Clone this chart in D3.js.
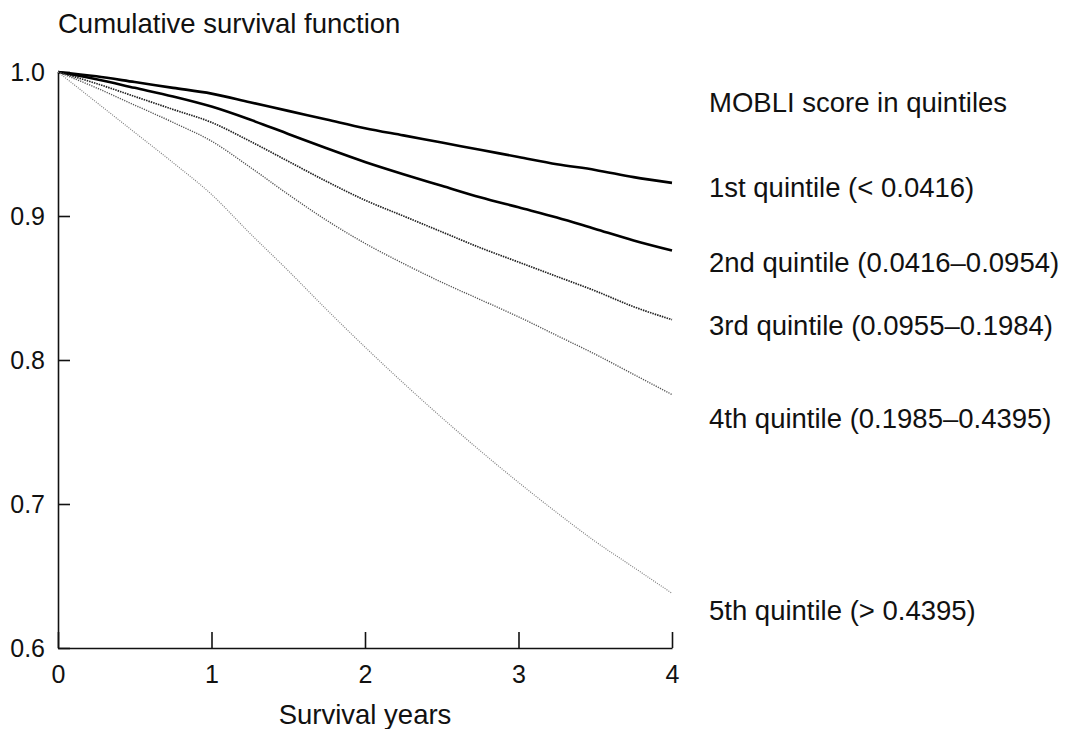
<!DOCTYPE html>
<html>
<head>
<meta charset="utf-8">
<script src="https://cdn.jsdelivr.net/npm/d3@7"></script>
<style>
  body { margin: 0; background: #fff; }
  svg { display: block; }
  text { font-family: "Liberation Sans", Arial, Helvetica, sans-serif; fill: #111; }
  .axis path, .axis line { stroke: #111; stroke-width: 1.6; }
  .axis text { font-size: 25px; }
  .label { font-size: 27.5px; }
</style>
</head>
<body>
<div id="chart"></div>
<script>
// Data (survival, every quarter year)
let years = [0, 0.25, 0.5, 0.75, 1, 1.25, 1.5, 1.75, 2, 2.25, 2.5, 2.75, 3, 3.25, 3.5, 3.75, 4];
let q1 = [1, 0.997, 0.993, 0.989, 0.985, 0.979, 0.973, 0.967, 0.961, 0.956, 0.951, 0.946, 0.941, 0.936, 0.932, 0.927, 0.923];
let q2 = [1, 0.995, 0.989, 0.983, 0.976, 0.967, 0.957, 0.947, 0.9375, 0.929, 0.921, 0.913, 0.906, 0.899, 0.891, 0.883, 0.876];
let q3 = [1, 0.992, 0.983, 0.974, 0.965, 0.952, 0.938, 0.924, 0.911, 0.900, 0.889, 0.878, 0.868, 0.858, 0.848, 0.837, 0.828];
let q4 = [1, 0.989, 0.977, 0.965, 0.952, 0.934, 0.915, 0.897, 0.881, 0.867, 0.854, 0.842, 0.830, 0.817, 0.804, 0.790, 0.776];
let q5 = [1, 0.979, 0.958, 0.937, 0.915, 0.888, 0.862, 0.835, 0.809, 0.784, 0.760, 0.737, 0.715, 0.694, 0.674, 0.656, 0.638];
let seriesNames = [
  '1st quintile (< 0.0416)',
  '2nd quintile (0.0416–0.0954)',
  '3rd quintile (0.0955–0.1984)',
  '4th quintile (0.1985–0.4395)',
  '5th quintile (> 0.4395)'
];
let xTicks = [0, 1, 2, 3, 4];
let yTicks = [0.6, 0.7, 0.8, 0.9, 1.0];

// Dimensions
let margin = { left: 58, right: 394, top: 72, bottom: 81 };
let width = 1066 - margin.left - margin.right;
let height = 729 - margin.top - margin.bottom;

// Scales
let x = d3.scaleLinear().domain([0, 4]).range([0, width]);
let y = d3.scaleLinear().domain([0.6, 1.0]).range([height, 0]);

let svg = d3.select('#chart')
  .append('svg')
  .attr('width', 1066)
  .attr('height', 729)
  .append('g')
  .attr('transform', `translate(${margin.left},${margin.top})`);

// Axes
svg.append('g')
  .attr('class', 'x axis')
  .attr('transform', `translate(0, ${height})`)
  .call(d3.axisBottom(x).tickValues(xTicks).tickFormat(d3.format('d'))
    .tickSizeInner(-16).tickSizeOuter(0).tickPadding(17));
svg.append('g')
  .attr('class', 'y axis')
  .call(d3.axisLeft(y).tickValues(yTicks).tickFormat(d3.format('.1f'))
    .tickSizeInner(-12).tickSizeOuter(0).tickPadding(13));

// Lines
let styles = [
  { color: '#000', w: 2.6, dash: null },
  { color: '#000', w: 2.6, dash: null },
  { color: '#222', w: 1.7, dash: '1.5,1' },
  { color: '#555', w: 1.4, dash: '1.2,1.2' },
  { color: '#808080', w: 1.2, dash: '1,1.3' }
];
let line = d3.line()
  .x((d, i) => x(years[i]))
  .y(d => y(d))
  .curve(d3.curveMonotoneX);
[q1, q2, q3, q4, q5].forEach((s, i) => {
  svg.append('path')
    .datum(s)
    .attr('fill', 'none')
    .attr('stroke', styles[i].color)
    .attr('stroke-width', styles[i].w)
    .attr('stroke-dasharray', styles[i].dash)
    .attr('d', line);
});

// Legend / labels
let legendX = 709 - margin.left;
let legendY = [197, 272, 335, 428, 620];
svg.append('text')
  .attr('class', 'label')
  .attr('x', legendX)
  .attr('y', 112 - margin.top)
  .text('MOBLI score in quintiles');
seriesNames.forEach((n, i) => {
  svg.append('text')
    .attr('class', 'label')
    .attr('x', legendX)
    .attr('y', legendY[i] - margin.top)
    .text(n);
});

svg.append('text')
  .attr('class', 'label')
  .attr('x', 0)
  .attr('y', 33 - margin.top)
  .text('Cumulative survival function');
svg.append('text')
  .attr('class', 'label')
  .attr('x', width / 2)
  .attr('y', 724 - margin.top)
  .attr('text-anchor', 'middle')
  .text('Survival years');
</script>
</body>
</html>
